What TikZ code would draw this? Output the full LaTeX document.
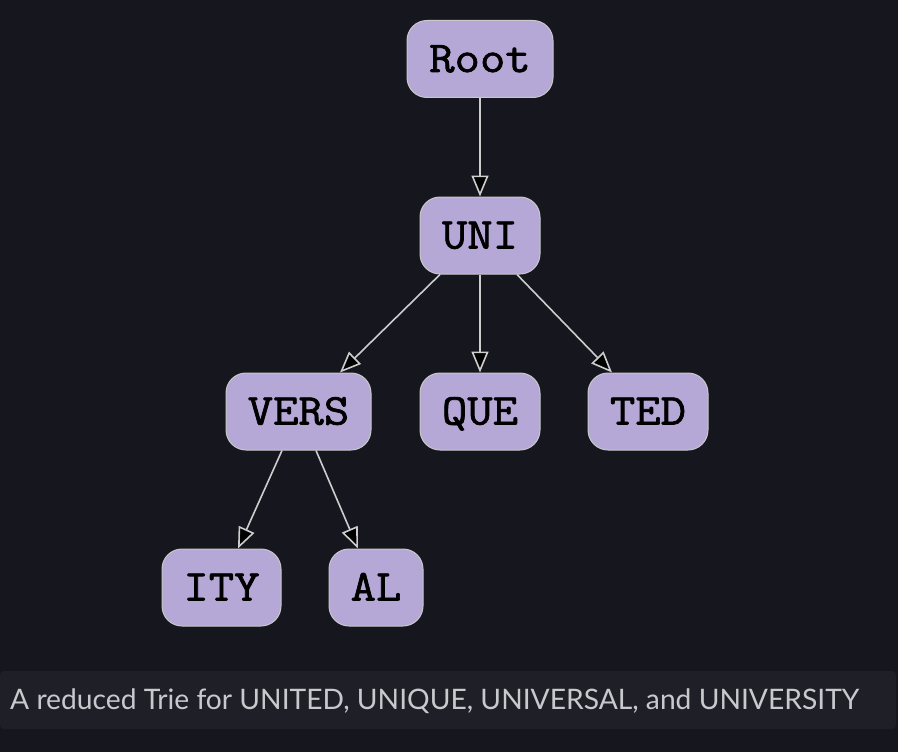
\documentclass[tikz,border=0pt]{standalone}
\usepackage{fontspec}
\setmainfont{Liberation Sans}
\setmonofont[FakeBold=1.6,FakeStretch=1.12]{Latin Modern Mono}
\newfontfamily\capft{Lato}
\usetikzlibrary{arrows.meta,calc}
\definecolor{bgcol}{RGB}{22,23,30}
\definecolor{barcol}{RGB}{31,32,39}
\definecolor{nodefill}{RGB}{181,168,214}
\definecolor{nodeline}{RGB}{200,200,200}
\definecolor{edgecol}{RGB}{205,205,205}
\definecolor{captext}{RGB}{200,200,205}
\begin{document}
\begin{tikzpicture}[x=1pt,y=-1pt,
  trie/.style={draw=nodeline, line width=1pt, fill=nodefill, rounded corners=20pt,
    minimum height=77pt, inner xsep=0pt, text height=26pt, text depth=0pt,
    font=\ttfamily\fontsize{44}{44}\selectfont, text=black},
  edge/.style={draw=edgecol, line width=1.6pt, -{Triangle[length=21pt,width=17pt,fill=black]}}]
\useasboundingbox (0,0) rectangle (898,752);
\fill[bgcol] (0,0) rectangle (898,752);
\fill[barcol, rounded corners=4pt] (0,671) rectangle (896,729);
\node[trie, minimum width=146pt] (root) at (480,59) {Root};
\node[trie, minimum width=120pt] (uni) at (480,235.5) {UNI};
\node[trie, minimum width=145pt] (vers) at (298.5,411.5) {VERS};
\node[trie, minimum width=120pt] (que) at (480,411.5) {QUE};
\node[trie, minimum width=120pt] (ted) at (648,411.5) {TED};
\node[trie, minimum width=119pt] (ity) at (221.5,587.5) {ITY};
\node[trie, minimum width=94pt] (al) at (376,587.5) {AL};
\draw[edge] (root.south) -- (uni.north);
\draw[edge] ([xshift=-40pt]uni.south) -- ([xshift=41.5pt]vers.north);
\draw[edge] (uni.south) -- (que.north);
\draw[edge] ([xshift=37pt]uni.south) -- ([xshift=-36pt]ted.north);
\draw[edge] ([xshift=-16.5pt]vers.south) -- ([xshift=16.5pt]ity.north);
\draw[edge] ([xshift=17.5pt]vers.south) -- ([xshift=-18pt]al.north);
\node[anchor=base west, inner sep=0pt, text=captext] (cap) at (10,709)
  {\resizebox{849pt}{!}{\capft\fontsize{26}{26}\selectfont A reduced Trie for UNITED, UNIQUE, UNIVERSAL, and UNIVERSITY}};
\end{tikzpicture}
\end{document}
